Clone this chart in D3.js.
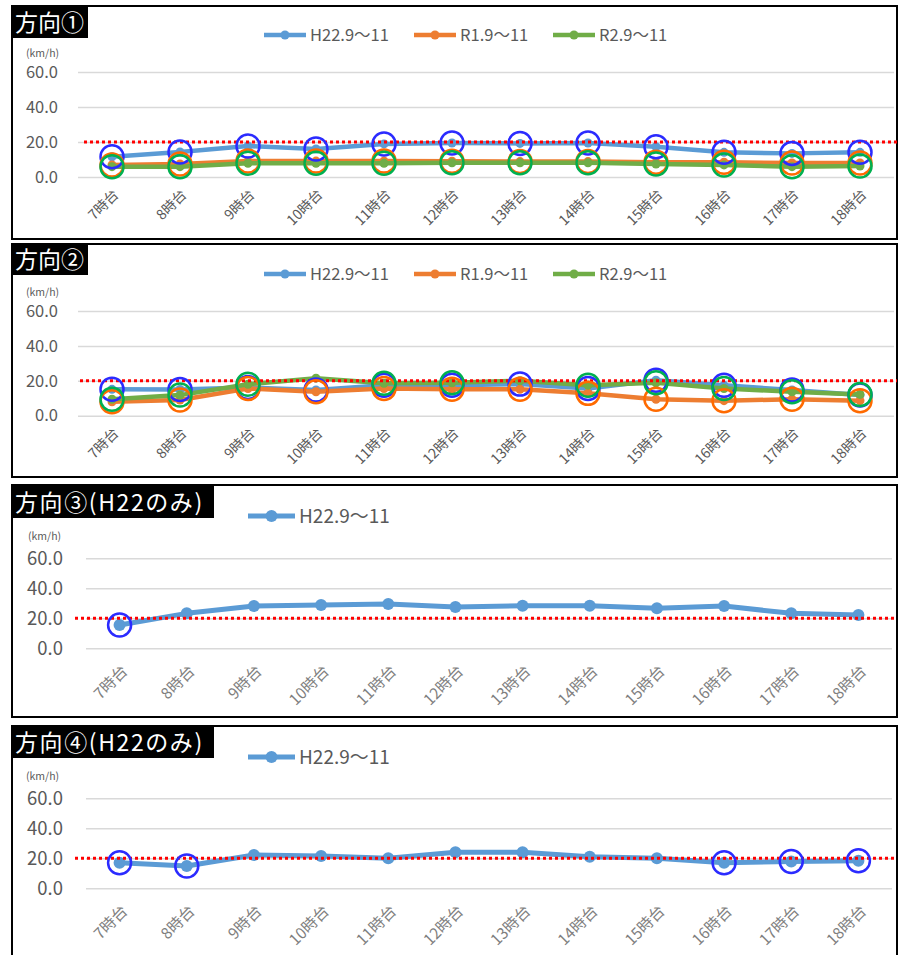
<!DOCTYPE html>
<html>
<head>
<meta charset="utf-8">
<script src="https://cdn.jsdelivr.net/npm/d3@7"></script>
<style>
  body { margin: 0; background: #fff; }
  svg { display: block; font-family: "Noto Sans CJK JP", "Noto Sans", sans-serif; }
</style>
</head>
<body>
<svg id="chart" width="899" height="955"></svg>
<script>
// hours on the x axis
var hours = ["7時台", "8時台", "9時台", "10時台", "11時台", "12時台",
             "13時台", "14時台", "15時台", "16時台", "17時台", "18時台"];
var yTicks = [0, 20, 40, 60];
var limitSpeed = 20;   // red dotted line (km/h)

// 方向①
var dir1_H22 = [11.6, 14.3, 17.7, 16.0, 18.9, 19.4, 19.2, 19.4, 17.3, 14.1, 13.5, 14.1];
var dir1_R1  = [6.9, 7.4, 9.1, 9.1, 9.1, 9.0, 8.8, 8.8, 8.5, 8.4, 8.0, 8.0];
var dir1_R2  = [5.9, 5.9, 7.8, 7.8, 7.8, 8.1, 8.1, 8.1, 7.4, 6.9, 5.9, 6.3];
// 方向②
var dir2_H22 = [15.1, 15.0, 16.2, 14.7, 17.5, 17.5, 18.1, 15.6, 20.3, 17.5, 14.7, 11.8];
var dir2_R1  = [8.0, 9.0, 15.6, 13.7, 15.6, 15.1, 15.1, 12.8, 9.4, 8.6, 9.4, 8.6];
var dir2_R2  = [9.4, 11.8, 18.0, 21.5, 18.6, 18.9, 20.0, 17.5, 18.9, 15.6, 13.7, 12.2];
// 方向③ / 方向④ (H22 only)
var dir3_H22 = [15.5, 23.3, 28.2, 28.9, 29.5, 27.5, 28.4, 28.4, 26.7, 28.2, 23.3, 22.2];
var dir4_H22 = [17.1, 14.9, 22.2, 21.5, 20.0, 24.0, 24.0, 21.1, 20.0, 17.1, 17.8, 18.4];

// indices of points marked with a ring
var allIdx = [0, 1, 2, 3, 4, 5, 6, 7, 8, 9, 10, 11];
var dir2_R2_marked = [0, 1, 2, 4, 5, 7, 8, 9, 10, 11];
var dir3_marked = [0];
var dir4_marked = [0, 1, 9, 10, 11];

var seriesNames = ["H22.9～11", "R1.9～11", "R2.9～11"];
var lineColors = ["#5b9bd5", "#ed7d31", "#70ad47"];
var ringColors = ["#2b2bff", "#ff6a00", "#00b050"];

var svg = d3.select("#chart");

function drawPanel(p) {
  var g = svg.append("g");

  // frame
  g.append("rect")
    .attr("x", p.box[0]).attr("y", p.box[1])
    .attr("width", p.box[2]).attr("height", p.box[3])
    .attr("fill", "#fff").attr("stroke", "#000").attr("stroke-width", 2);

  // title
  g.append("rect")
    .attr("x", p.box[0]).attr("y", p.box[1])
    .attr("width", p.titleW).attr("height", p.titleH)
    .attr("fill", "#000");
  g.append("text")
    .attr("x", p.box[0] + 3).attr("y", p.box[1] + p.titleH - 7)
    .attr("fill", "#fff").attr("font-size", p.titleSize)
    .attr("letter-spacing", p.titleSpacing)
    .text(p.title);

  var x = d3.scaleBand().domain(hours).range([p.xL, p.xR]);
  var y = d3.scaleLinear().domain([0, 60]).range([p.yBot, p.yTop]);
  var cx = function(i) { return x(hours[i]) + x.bandwidth() / 2; };

  // y axis + gridlines
  var yAxis = d3.axisLeft(y)
    .tickValues(yTicks)
    .tickFormat(d3.format(".1f"))
    .tickSize(-(p.xR - p.xL))
    .tickPadding(p.yPad);
  var ya = g.append("g")
    .attr("transform", "translate(" + p.xL + ",0)")
    .call(yAxis);
  ya.select(".domain").remove();
  ya.selectAll("line").attr("stroke", "#d9d9d9").attr("stroke-width", 1.5);
  ya.selectAll("text")
    .attr("fill", "#595959")
    .attr("font-size", p.yFont)
    .attr("font-family", "Noto Sans CJK JP");

  g.append("text")
    .attr("x", p.unitX).attr("y", p.unitY)
    .attr("fill", "#595959").attr("font-size", 10.5)
    .text("(km/h)");

  // x axis labels rotated
  var xa = g.append("g")
    .attr("transform", "translate(" + p.xLabDx + "," + (p.yBot + p.xLabDy) + ")")
    .call(d3.axisBottom(x).tickSize(0));
  xa.select(".domain").remove();
  xa.selectAll("text")
    .attr("x", 0).attr("y", 0).attr("dy", "0.35em")
    .attr("transform", "rotate(-45)")
    .attr("text-anchor", "end")
    .attr("fill", p.xColor)
    .attr("font-size", p.xFont)
    .attr("font-family", "Noto Sans CJK JP");

  var line = d3.line()
    .x(function(d, i) { return cx(i); })
    .y(function(d) { return y(d); });

  // series
  p.series.forEach(function(s) {
    g.append("path")
      .datum(s.values)
      .attr("fill", "none")
      .attr("stroke", lineColors[s.k])
      .attr("stroke-width", p.lineW)
      .attr("stroke-linejoin", "round")
      .attr("d", line);
    g.selectAll(null)
      .data(s.values)
      .enter().append("circle")
      .attr("cx", function(d, i) { return cx(i); })
      .attr("cy", function(d) { return y(d); })
      .attr("r", p.markR)
      .attr("fill", lineColors[s.k]);
  });

  // 20 km/h line
  g.append("line")
    .attr("x1", p.redX).attr("x2", p.box[0] + p.box[2])
    .attr("y1", y(limitSpeed)).attr("y2", y(limitSpeed))
    .attr("stroke", "#ff0000").attr("stroke-width", 3)
    .attr("stroke-dasharray", "3,3");

  // rings
  p.series.forEach(function(s) {
    g.selectAll(null)
      .data(s.marked)
      .enter().append("circle")
      .attr("cx", function(i) { return cx(i); })
      .attr("cy", function(i) { return y(s.values[i]); })
      .attr("r", 11.5)
      .attr("fill", "none")
      .attr("stroke", ringColors[s.k])
      .attr("stroke-width", 2.5);
  });

  // legend
  p.series.forEach(function(s, j) {
    var lx = p.legX[j];
    g.append("line")
      .attr("x1", lx).attr("x2", lx + p.legLen)
      .attr("y1", p.legY).attr("y2", p.legY)
      .attr("stroke", lineColors[s.k]).attr("stroke-width", p.lineW);
    g.append("circle")
      .attr("cx", lx + p.legLen / 2).attr("cy", p.legY)
      .attr("r", p.markR).attr("fill", lineColors[s.k]);
    g.append("text")
      .attr("x", lx + p.legLen + 4).attr("y", p.legY)
      .attr("dy", "0.36em")
      .attr("fill", "#595959").attr("font-size", p.legFont)
      .text(seriesNames[s.k]);
  });
}

drawPanel({
  box: [12, 6, 885, 233], title: "方向①", titleW: 76, titleH: 32, titleSize: 23, titleSpacing: 0,
  xL: 78, xR: 894, yTop: 72, yBot: 177, yPad: 20, yFont: 16.5,
  unitX: 26, unitY: 57, xLabDx: 4, xLabDy: 15, xColor: "#595959", xFont: 14,
  lineW: 4.5, markR: 4.5, redX: 84,
  legY: 35, legX: [264, 414, 553], legLen: 42, legFont: 16.5,
  series: [
    { k: 0, values: dir1_H22, marked: allIdx },
    { k: 1, values: dir1_R1, marked: allIdx },
    { k: 2, values: dir1_R2, marked: allIdx }
  ]
});

drawPanel({
  box: [12, 244, 885, 233], title: "方向②", titleW: 76, titleH: 31, titleSize: 23, titleSpacing: 0,
  xL: 78, xR: 894, yTop: 311, yBot: 415.7, yPad: 20, yFont: 16.5,
  unitX: 26, unitY: 296, xLabDx: 4, xLabDy: 15, xColor: "#595959", xFont: 14,
  lineW: 4.5, markR: 4.5, redX: 80,
  legY: 274, legX: [264, 414, 553], legLen: 42, legFont: 16.5,
  series: [
    { k: 0, values: dir2_H22, marked: allIdx },
    { k: 1, values: dir2_R1, marked: allIdx },
    { k: 2, values: dir2_R2, marked: dir2_R2_marked }
  ]
});

drawPanel({
  box: [12, 485, 885, 232], title: "方向③(H22のみ)", titleW: 202, titleH: 33, titleSize: 23, titleSpacing: 1.6,
  xL: 86, xR: 892, yTop: 558.3, yBot: 648.3, yPad: 23, yFont: 18.5,
  unitX: 28, unitY: 540, xLabDx: 5, xLabDy: 20, xColor: "#7f7f7f", xFont: 15.5,
  lineW: 5, markR: 6, redX: 75,
  legY: 516, legX: [248], legLen: 47, legFont: 19,
  series: [
    { k: 0, values: dir3_H22, marked: dir3_marked }
  ]
});

drawPanel({
  box: [12, 726, 885, 240], title: "方向④(H22のみ)", titleW: 202, titleH: 32, titleSize: 23, titleSpacing: 1.6,
  xL: 86, xR: 892, yTop: 798.3, yBot: 888.3, yPad: 23, yFont: 18.5,
  unitX: 26, unitY: 780, xLabDx: 5, xLabDy: 20, xColor: "#7f7f7f", xFont: 15.5,
  lineW: 5, markR: 6, redX: 75,
  legY: 757, legX: [248], legLen: 47, legFont: 19,
  series: [
    { k: 0, values: dir4_H22, marked: dir4_marked }
  ]
});
</script>
</body>
</html>
